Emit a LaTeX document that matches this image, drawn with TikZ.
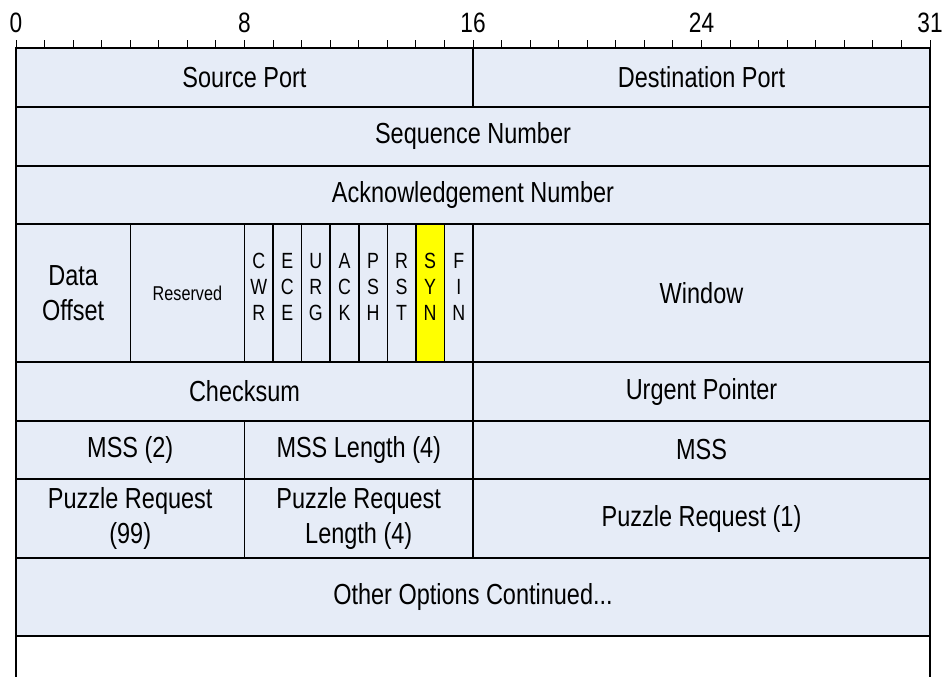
\documentclass[tikz,border=0pt]{standalone}
\usepackage{fontspec}
\setmainfont{Liberation Sans}[FakeStretch=0.81]
\usetikzlibrary{calc}
\definecolor{cellfill}{RGB}{230,236,247}
\definecolor{synfill}{RGB}{255,255,0}
% one field of the header: name, first bit, last bit, top, bottom, text
\newcommand\tcpfield[7][lbl]{%
  \draw[cell] (#3,#5) rectangle (#4,#6);
  \node[#1] (#2) at ($(#3,#5)!0.5!(#4,#6)$) {#7};}

\begin{document}
\begin{tikzpicture}[x=28.5625pt,y=-1pt,
  cell/.style={draw=black,fill=cellfill,line width=1.5pt},
  lbl/.style={inner sep=0pt,align=center,font=\fontsize{29}{35}\selectfont},
  smalllbl/.style={inner sep=0pt,align=center,font=\fontsize{20}{24}\selectfont},
  flaglbl/.style={inner sep=0pt,align=center,font=\fontsize{22}{26}\selectfont},
  numlbl/.style={inner sep=0pt,anchor=base,font=\fontsize{28}{32}\selectfont},
  ruler/.style={line width=1pt}]
\useasboundingbox (-0.5602,-48) rectangle (32.455,628);
% Bit ruler
\draw[ruler] (0,0) -- (32,0);
\foreach \b in {0,...,32}
  \draw[ruler] (\b,0) -- (\b,-8);
\foreach \b/\t in {0/0,8/8,16/16,24/24,32/31}
  \node[numlbl] (bit\b) at (\b,-15) {\t};
% Header fields
\tcpfield{srcport}{0}{16}{0}{59}{Source Port}
\tcpfield{dstport}{16}{32}{0}{59}{Destination Port}
\tcpfield{seqnum}{0}{32}{59}{118}{Sequence Number}
\tcpfield{acknum}{0}{32}{118}{176}{Acknowledgement Number}
\tcpfield{dataoff}{0}{4}{176}{314}{Data\\Offset}
\tcpfield[smalllbl]{reserved}{4}{8}{176}{314}{Reserved}
% Flag bits
\foreach \name/\flag/\col [count=\i from 8] in
  {cwr/{C\\W\\R}/cellfill,ece/{E\\C\\E}/cellfill,urg/{U\\R\\G}/cellfill,
   ack/{A\\C\\K}/cellfill,psh/{P\\S\\H}/cellfill,rst/{R\\S\\T}/cellfill,
   syn/{S\\Y\\N}/synfill,fin/{F\\I\\N}/cellfill}{
  \draw[cell,fill=\col] (\i,176) rectangle (\i+1,314);
  \node[flaglbl] (\name) at (\i+0.5,239) {\flag};
}
\tcpfield{window}{16}{32}{176}{314}{Window}
\tcpfield{checksum}{0}{16}{314}{373}{Checksum}
\tcpfield{urgptr}{16}{32}{314}{373}{Urgent Pointer}
% Options
\tcpfield{mssopt}{0}{8}{373}{431}{MSS (2)}
\tcpfield{msslen}{8}{16}{373}{431}{MSS Length (4)}
\tcpfield{mss}{16}{32}{373}{431}{MSS}
\tcpfield{puzopt}{0}{8}{431}{510}{Puzzle Request\\(99)}
\tcpfield{puzlen}{8}{16}{431}{510}{Puzzle Request\\Length (4)}
\tcpfield{puzreq}{16}{32}{431}{510}{Puzzle Request (1)}
\tcpfield{otheropt}{0}{32}{510}{588}{Other Options Continued...}
% Open last row
\draw[line width=1.5pt] (0,588) -- (0,640);
\draw[line width=1.5pt] (32,588) -- (32,640);
\end{tikzpicture}
\end{document}
